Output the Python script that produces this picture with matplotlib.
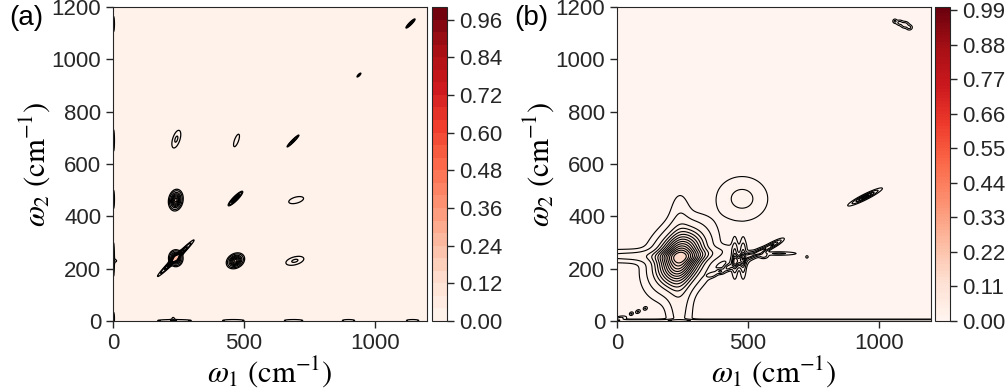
import numpy as np
import matplotlib

matplotlib.use("Agg")
import matplotlib.pyplot as plt

plt.rcParams["font.family"] = ["Liberation Sans", "DejaVu Sans"]
plt.rcParams["mathtext.fontset"] = "stix"

# grid for both spectra (cm^-1)
W_MIN, W_MAX = 0, 1200

# panel (a): peaks as (centre x, centre y, amplitude, sigma along, sigma across, angle deg)
A_X0 = [240, 468, 688, 940, 1137,
        240, 240, 468,
        242, 472, 700, 695,
        2, 2, 2, 2, 2, 10,
        235, 460, 690, 900, 1145, 230]
A_Y0 = [240, 468, 688, 940, 1137,
        240, 462, 230,
        695, 690, 462, 230,
        1135, 690, 465, 235, 10, 230,
        2, 2, 2, 2, 2, 10]
A_AMP = [0.10, 0.10, 0.05, 0.03, 0.06,
         0.15, 0.15, 0.15,
         0.022, 0.016, 0.016, 0.022,
         0.02, 0.02, 0.02, 0.02, 0.02, 0.012,
         0.02, 0.02, 0.02, 0.02, 0.02, 0.012]
A_SMAJ = [46, 18, 18, 7, 13,
          14, 18, 16,
          28, 26, 30, 28,
          25, 35, 30, 55, 20, 6,
          55, 35, 30, 20, 20, 6]
A_SMIN = [4, 4, 2.5, 2, 2.5,
          12, 12, 12,
          11, 8, 12, 12,
          3, 3, 3, 3, 3, 6,
          3, 3, 3, 3, 3, 6]
A_ANG = [45, 45, 45, 45, 45,
         90, 80, 30,
         72, 70, 15, 15,
         90, 90, 90, 90, 90, 0,
         0, 0, 0, 0, 0, 0]
A_LINES = [0.01, 0.02, 0.04, 0.06, 0.08, 0.10, 0.12, 0.14]
A_FILL_LEVELS = 26

# panel (b)
B_X0 = [240, 100, 238, 242, 360,
        478, 948,
        1062, 1080, 1100, 1117,
        55, 80, 108, 12,
        365, 395, 425, 450, 482, 465, 505, 540, 575, 605, 620, 726, 560,
        600]
B_Y0 = [240, 248, 100, 400, 262,
        467, 474,
        1146, 1140, 1132, 1122,
        28, 36, 48, 10,
        178, 190, 205, 240, 240, 230, 250, 262, 280, 295, 258, 245, 250,
        2]
B_AMP = [0.122, 0.016, 0.017, 0.006, 0.008,
         0.0152, 0.05,
         0.014, 0.016, 0.022, 0.016,
         0.014, 0.014, 0.013, 0.016,
         0.02, 0.025, 0.03, 0.03, 0.03, 0.045, 0.03, 0.03, 0.025, 0.02, 0.014, 0.012, 0.02,
         0.02]
B_SMAJ = [72, 200, 170, 60, 80,
          60, 33,
          5, 8, 9, 7,
          5, 6, 5, 15,
          14, 10, 12, 40, 40, 20, 14, 20, 30, 20, 40, 3, 10,
          3000]
B_SMIN = [52, 16, 30, 24, 14,
          52, 5,
          5, 6, 7, 6,
          4, 4, 4, 5,
          6, 6, 7, 7, 7, 14, 8, 7, 6, 5, 4, 3, 6,
          3]
B_ANG = [55, 0, 90, 90, 10,
         0, 26.6,
         0, 0, 0, 0,
         30, 30, 30, 10,
         20, 0, 30, 90, 90, 30, 20, 25, 30, 30, 0, 0, 0,
         0]
B_LINES = [0.004, 0.012, 0.025, 0.035, 0.045, 0.055, 0.065, 0.075,
           0.085, 0.095, 0.105, 0.115, 0.125, 0.135]
B_FILL_LEVELS = 101


def spectrum(X, Y, x0, y0, amp, smaj, smin, ang):
    Z = np.zeros_like(X)
    for cx, cy, a, s1, s2, t in zip(x0, y0, amp, smaj, smin, ang):
        th = np.radians(t)
        dx, dy = X - cx, Y - cy
        u = dx * np.cos(th) + dy * np.sin(th)
        v = -dx * np.sin(th) + dy * np.cos(th)
        Z += a * np.exp(-(u ** 2 / (2 * s1 ** 2) + v ** 2 / (2 * s2 ** 2)))
    return Z


def panel(fig, rect, crect, Z, X, Y, nfill, lines, lw, tag, tag_x):
    ax = fig.add_axes(rect)
    cax = fig.add_axes(crect)
    cf = ax.contourf(X, Y, Z, levels=np.linspace(0, 1, nfill), cmap="Reds")
    ax.contour(X, Y, Z, levels=lines, colors="black", linewidths=lw)
    ax.set_xlim(W_MIN, W_MAX)
    ax.set_ylim(W_MIN, W_MAX)
    ax.set_xticks([0, 500, 1000])
    ax.set_yticks(range(0, 1201, 200))
    ax.tick_params(direction="out", length=5, width=1, labelsize=16,
                   colors="#262626")
    ax.set_xlabel(r"$\omega_1\ (\mathrm{cm}^{-1})$", fontsize=22, labelpad=0)
    ax.set_ylabel(r"$\omega_2\ (\mathrm{cm}^{-1})$", fontsize=22, labelpad=0)
    for s in ax.spines.values():
        s.set_color("#262626")
    cb = fig.colorbar(cf, cax=cax)
    cb.ax.tick_params(direction="out", length=5, width=1, labelsize=16,
                      colors="#262626")
    cb.outline.set_edgecolor("#262626")
    fig.text(tag_x, 0.955, tag, fontsize=20, ha="left", va="center")
    return ax


x = np.linspace(W_MIN, W_MAX, 801)
X, Y = np.meshgrid(x, x)
Za = spectrum(X, Y, A_X0, A_Y0, A_AMP, A_SMAJ, A_SMIN, A_ANG)
Zb = spectrum(X, Y, B_X0, B_Y0, B_AMP, B_SMAJ, B_SMIN, B_ANG)

fig = plt.figure(figsize=(10.08, 3.89), dpi=100)
panel(fig, [0.1121, 0.1748, 0.3115, 0.8072], [0.4286, 0.1748, 0.0149, 0.8072],
      Za, X, Y, A_FILL_LEVELS, A_LINES, 0.9, "(a)", 0.009)
panel(fig, [0.6121, 0.1748, 0.3115, 0.8072], [0.9276, 0.1748, 0.0149, 0.8072],
      Zb, X, Y, B_FILL_LEVELS, B_LINES, 0.8, "(b)", 0.51)

fig.savefig("out.png", dpi=100)
